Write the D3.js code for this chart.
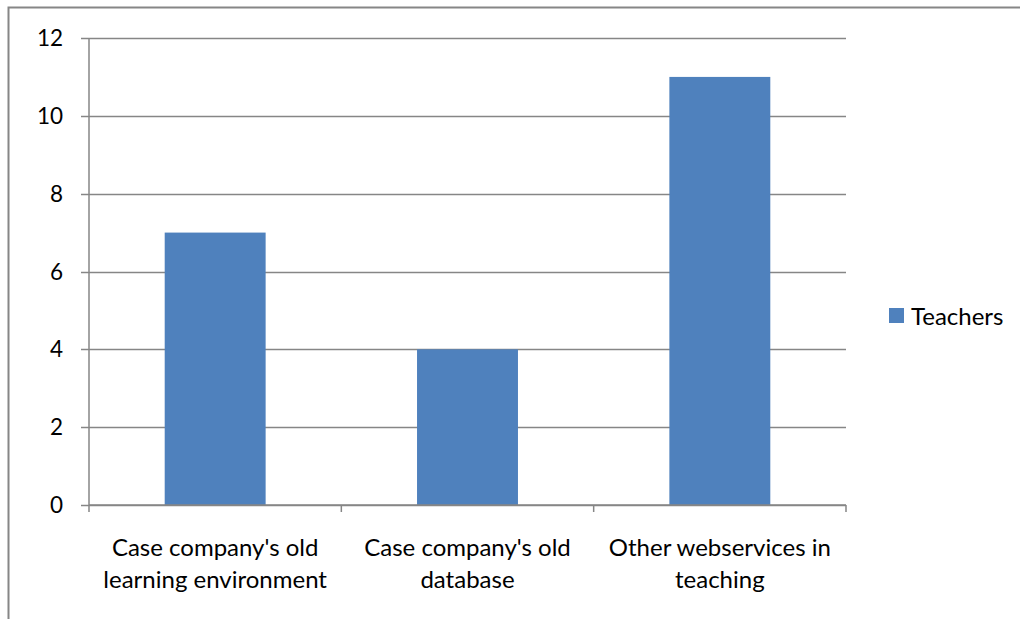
<!DOCTYPE html>
<html><head><meta charset="utf-8">
<script src="https://cdn.jsdelivr.net/npm/d3@7"></script>
<style>body{margin:0;background:#fff}svg{display:block}text{font-family:Lato,"Open Sans",sans-serif;fill:#000}</style>
</head><body>
<svg id="c" width="1020" height="619"></svg>
<script>
const categories = [["Case company's old","learning environment"],["Case company's old","database"],["Other webservices in","teaching"]];
const values = [7, 4, 11];
const yTicks = [0, 2, 4, 6, 8, 10, 12];
const seriesName = "Teachers";

const svg = d3.select("#c");
const L = 89, R = 846, T = 38, B = 505;
const grey = "#868686", blue = "#4F81BD";

// outer border
svg.append("path").attr("d","M8.5,619 V7.5 H1020").attr("fill","none").attr("stroke",grey).attr("stroke-width",2);

const x = d3.scaleBand().domain(d3.range(values.length)).range([L, R]).paddingInner(0.6).paddingOuter(0.3);
const xb = d3.scaleBand().domain(d3.range(values.length)).range([L, R]);
const y = d3.scaleLinear().domain([0, 12]).range([B, T]);

// gridlines + y ticks
svg.append("g").selectAll("line").data(yTicks).join("line")
  .attr("x1", L - 8).attr("x2", R).attr("y1", d => Math.round(y(d)) + 0.5).attr("y2", d => Math.round(y(d)) + 0.5)
  .attr("stroke", grey).attr("stroke-width", 1.5);
svg.append("g").selectAll("text").data(yTicks).join("text")
  .attr("x", 63).attr("y", d => y(d)).attr("dy", "0.36em").attr("text-anchor", "end")
  .attr("font-size", 22.5).text(d => d);

// bars
svg.append("g").selectAll("rect").data(values).join("rect")
  .attr("x", (d, i) => x(i)).attr("width", x.bandwidth())
  .attr("y", d => y(d)).attr("height", d => y(0) - y(d)).attr("fill", blue);

// axes lines
svg.append("line").attr("x1", L).attr("x2", L).attr("y1", T).attr("y2", B).attr("stroke", grey).attr("stroke-width", 1.5);
svg.append("line").attr("x1", L).attr("x2", R).attr("y1", B).attr("y2", B).attr("stroke", grey).attr("stroke-width", 1.5);
const xt = d3.range(values.length + 1).map(i => i < values.length ? xb(i) : R);
svg.append("g").selectAll("line").data(xt).join("line")
  .attr("x1", d => d).attr("x2", d => d).attr("y1", B).attr("y2", B + 7).attr("stroke", grey).attr("stroke-width", 1.5);

// category labels
const lab = svg.append("g").selectAll("text").data(categories).join("text")
  .attr("text-anchor", "middle").attr("font-size", 24);
lab.each(function(d, i) {
  const t = d3.select(this);
  d.forEach((line, k) => t.append("tspan").attr("x", xb(i) + xb.bandwidth() / 2).attr("y", 556 + k * 32).text(line));
});

// legend
svg.append("rect").attr("x", 889).attr("y", 308).attr("width", 15).attr("height", 15).attr("fill", blue);
svg.append("text").attr("x", 911).attr("y", 316).attr("dy", "0.36em").attr("font-size", 24).text(seriesName);
</script>
</body></html>
